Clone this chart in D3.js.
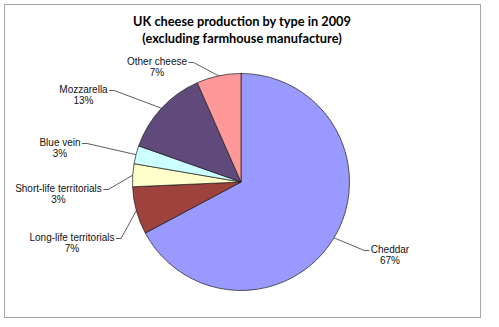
<!DOCTYPE html>
<html><head><meta charset="utf-8">
<script src="https://cdn.jsdelivr.net/npm/d3@7"></script>
<style>html,body{margin:0;padding:0;background:#fff;}</style>
</head><body><svg id="c" width="499" height="327"></svg>
<script>
const categories = ["Cheddar","Long-life territorials","Short-life territorials","Blue vein","Mozzarella","Other cheese"];
const values = [67.2, 7.1, 3.4, 2.7, 13.0, 6.6];
const pctLabels = ["67%","7%","3%","3%","13%","7%"];
const colors = ["#9999FF","#9E423D","#FFFFCC","#CCFFFF","#604A7B","#FF9999"];
const titleLines = ["UK cheese production by type in 2009","(excluding farmhouse manufacture)"];

// label layout (text centre of first line), side = where the leader leaves
const labelLayout = {
  "Cheddar": {x:390, y:249, side:"left"},
  "Long-life territorials": {x:72, y:237, side:"right"},
  "Short-life territorials": {x:58.5, y:188, side:"right"},
  "Blue vein": {x:60, y:142, side:"right"},
  "Mozzarella": {x:83.5, y:89, side:"right"},
  "Other cheese": {x:157, y:61, side:"right"}
};

const svg = d3.select("#c");
svg.append("rect").attr("x",4.5).attr("y",4.5).attr("width",476).attr("height",313)
  .attr("fill","#fff").attr("stroke","#A6A6A6").attr("stroke-width",1);

const title = svg.append("text").attr("text-anchor","middle")
  .attr("font-family","Lato, 'Open Sans', sans-serif").attr("font-weight","bold")
  .attr("font-size",14).attr("fill","#000");
titleLines.forEach((t,i)=>{
  title.append("tspan").attr("x",242).attr("y",26 + i*17).text(t);
});
// fit first title line to ~218px as in the reference
const tw = title.select("tspan").node().getComputedTextLength();
title.attr("font-size", 14*218/tw);

const cx = 241, cy = 182, r = 108.5;
const data = categories.map((c,i)=>({name:c, value:values[i], pct:pctLabels[i], color:colors[i]}));
const pie = d3.pie().value(d=>d.value).sort(null);
const arcs = pie(data);
const arc = d3.arc().innerRadius(0).outerRadius(r);
const g = svg.append("g").attr("transform",`translate(${cx},${cy})`);
g.selectAll("path").data(arcs).join("path")
  .attr("d",arc).attr("fill",d=>d.data.color)
  .attr("stroke","#1a1a1a").attr("stroke-width",0.7).attr("stroke-linejoin","round");

const lab = svg.append("g").attr("font-family","'Liberation Sans', Arial, sans-serif")
  .attr("font-size",10).attr("fill","#111");
arcs.forEach(a=>{
  const L = labelLayout[a.data.name];
  const t = lab.append("text").attr("text-anchor","middle");
  t.append("tspan").attr("x",L.x).attr("y",L.y+3.5).text(a.data.name);
  t.append("tspan").attr("x",L.x).attr("y",L.y+14.5).text(a.data.pct);
  const w = t.select("tspan").node().getComputedTextLength();
  const mid = (a.startAngle + a.endAngle)/2;
  const px = cx + r*Math.sin(mid), py = cy - r*Math.cos(mid);
  const dir = L.side==="right" ? 1 : -1;
  const sx = L.x + dir*(w/2 + 1.5), sy = L.y + 1.5;
  const hx = sx + dir*5;
  svg.append("path").attr("d",`M${sx},${sy}L${hx},${sy}L${px},${py}`)
    .attr("fill","none").attr("stroke","#333").attr("stroke-width",0.8);
});
</script></body></html>
